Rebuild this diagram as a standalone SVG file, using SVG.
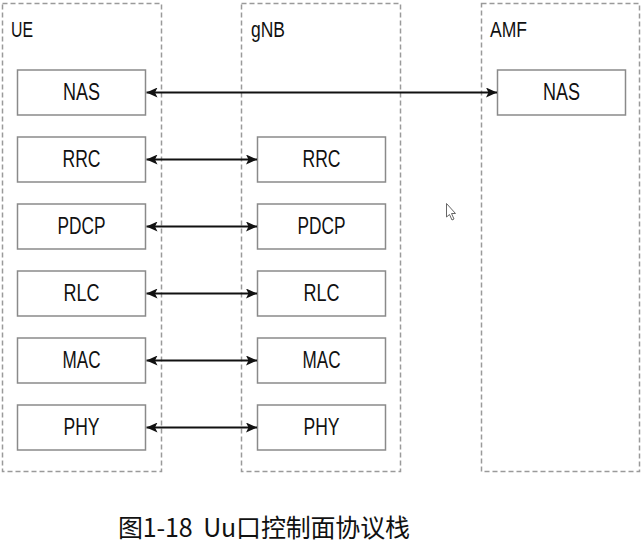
<svg xmlns="http://www.w3.org/2000/svg" width="641" height="545" viewBox="0 0 641 545">
  <style>
    .container { fill: none; stroke: #9a9a9a; stroke-width: 1.5; stroke-dasharray: 5 3; }
    .title { font-family: "Liberation Sans", Arial, sans-serif; font-size: 22px; fill: #111; }
    .box rect { fill: #fff; stroke: #8a8a8a; stroke-width: 1.5; }
    .box text { font-family: "Liberation Sans", Arial, sans-serif; font-size: 24px; fill: #111; text-anchor: middle; }
    .link { stroke: #111; stroke-width: 2; fill: none; marker-start: url(#head); marker-end: url(#head); }
    .caption { font-family: "Noto Sans CJK SC", "Noto Sans", sans-serif; font-size: 25px; fill: #111; }
  </style>
  <defs>
    <marker id="head" viewBox="0 0 11 10" refX="11" refY="5" markerWidth="11" markerHeight="10" markerUnits="userSpaceOnUse" orient="auto-start-reverse">
      <path d="M0,0 L11,5 L0,10 L2.5,5 Z" fill="#111"/>
    </marker>
  </defs>
  <rect width="641" height="545" fill="#fff"/>

  <!-- entity frames -->
  <g id="ue">
    <rect class="container" x="2.5" y="3.5" width="159" height="468"/>
    <text class="title" x="11" y="37" textLength="22" lengthAdjust="spacingAndGlyphs">UE</text>
  </g>
  <g id="gnb">
    <rect class="container" x="241.5" y="3.5" width="159" height="468"/>
    <text class="title" x="251" y="37" textLength="34" lengthAdjust="spacingAndGlyphs">gNB</text>
  </g>
  <g id="amf">
    <rect class="container" x="481.5" y="3.5" width="158" height="468"/>
    <text class="title" x="490" y="37" textLength="37" lengthAdjust="spacingAndGlyphs">AMF</text>
  </g>

  <!-- UE stack -->
  <g id="ue-nas" class="box"><rect x="17.5" y="70" width="128" height="45"/><text x="81.5" y="100" textLength="37" lengthAdjust="spacingAndGlyphs">NAS</text></g>
  <g id="ue-rrc" class="box"><rect x="17.5" y="137" width="128" height="45"/><text x="81.5" y="167" textLength="38" lengthAdjust="spacingAndGlyphs">RRC</text></g>
  <g id="ue-pdcp" class="box"><rect x="17.5" y="204" width="128" height="45"/><text x="81.5" y="234" textLength="48" lengthAdjust="spacingAndGlyphs">PDCP</text></g>
  <g id="ue-rlc" class="box"><rect x="17.5" y="271" width="128" height="45"/><text x="81.5" y="301" textLength="36" lengthAdjust="spacingAndGlyphs">RLC</text></g>
  <g id="ue-mac" class="box"><rect x="17.5" y="338" width="128" height="45"/><text x="81.5" y="368" textLength="38" lengthAdjust="spacingAndGlyphs">MAC</text></g>
  <g id="ue-phy" class="box"><rect x="17.5" y="405" width="128" height="45"/><text x="81.5" y="435" textLength="36" lengthAdjust="spacingAndGlyphs">PHY</text></g>

  <!-- gNB stack -->
  <g id="gnb-rrc" class="box"><rect x="257.5" y="137" width="128" height="45"/><text x="321.5" y="167" textLength="38" lengthAdjust="spacingAndGlyphs">RRC</text></g>
  <g id="gnb-pdcp" class="box"><rect x="257.5" y="204" width="128" height="45"/><text x="321.5" y="234" textLength="48" lengthAdjust="spacingAndGlyphs">PDCP</text></g>
  <g id="gnb-rlc" class="box"><rect x="257.5" y="271" width="128" height="45"/><text x="321.5" y="301" textLength="36" lengthAdjust="spacingAndGlyphs">RLC</text></g>
  <g id="gnb-mac" class="box"><rect x="257.5" y="338" width="128" height="45"/><text x="321.5" y="368" textLength="38" lengthAdjust="spacingAndGlyphs">MAC</text></g>
  <g id="gnb-phy" class="box"><rect x="257.5" y="405" width="128" height="45"/><text x="321.5" y="435" textLength="36" lengthAdjust="spacingAndGlyphs">PHY</text></g>

  <!-- AMF stack -->
  <g id="amf-nas" class="box"><rect x="497.5" y="70" width="128" height="45"/><text x="561.5" y="100" textLength="37" lengthAdjust="spacingAndGlyphs">NAS</text></g>

  <!-- peer-to-peer links -->
  <g id="links">
    <line class="link" x1="146.5" y1="92.5" x2="497" y2="92.5"/>
    <line class="link" x1="146.5" y1="159.5" x2="257" y2="159.5"/>
    <line class="link" x1="146.5" y1="226.5" x2="257" y2="226.5"/>
    <line class="link" x1="146.5" y1="293.5" x2="257" y2="293.5"/>
    <line class="link" x1="146.5" y1="360.5" x2="257" y2="360.5"/>
    <line class="link" x1="146.5" y1="427.5" x2="257" y2="427.5"/>
  </g>

  <!-- pointer -->
  <path d="M446.5,203.5 L446.5,217 L449.5,214.5 L452,220 L454,219 L451.5,213.5 L455.5,213.5 Z" fill="#fff" stroke="#666" stroke-width="1"/>

  <text class="caption" x="118" y="537" xml:space="preserve" textLength="292">图1-18  Uu口控制面协议栈</text>
</svg>
